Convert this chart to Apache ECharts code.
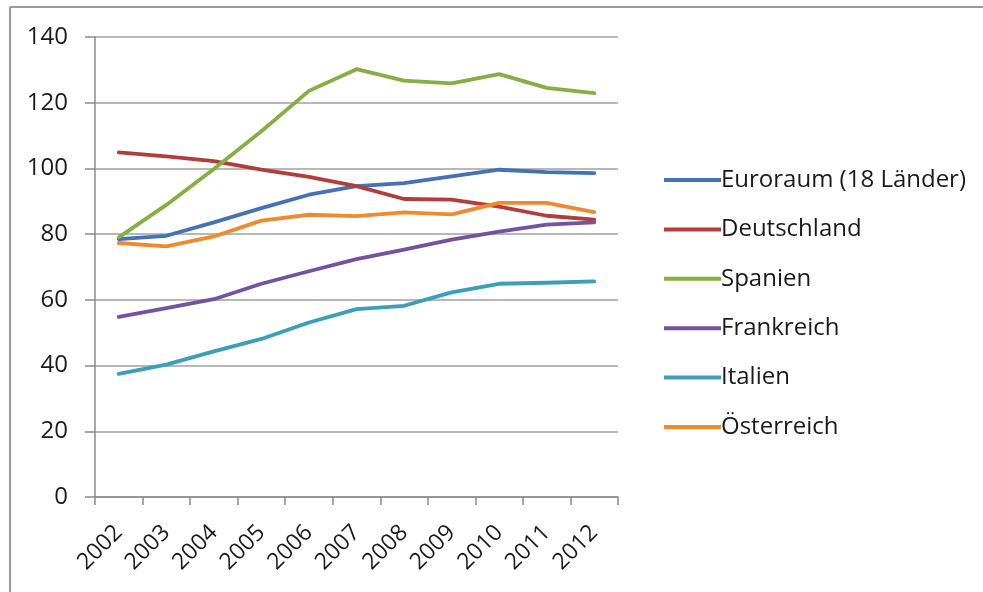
<!DOCTYPE html>
<html>
<head>
<meta charset="utf-8">
<script src="https://cdn.jsdelivr.net/npm/echarts@6/dist/echarts.min.js"></script>
<style>
  html, body { margin: 0; padding: 0; background: #ffffff; }
  #chart { width: 983px; height: 592px; }
</style>
</head>
<body>
<div id="chart"></div>
<script>
// Jahre (x-Achse)
const years = ['2002', '2003', '2004', '2005', '2006', '2007', '2008', '2009', '2010', '2011', '2012'];

// Werte je Land
const euroraum    = [78.5, 79.5, 83.6, 87.9, 92.0, 94.6, 95.5, 97.6, 99.6, 98.9, 98.6];
const deutschland = [104.9, 103.7, 102.2, 99.6, 97.4, 94.6, 90.7, 90.5, 88.4, 85.6, 84.4];
const spanien     = [79.0, 88.9, 99.8, 111.3, 123.6, 130.2, 126.7, 125.9, 128.7, 124.5, 122.9];
const frankreich  = [54.8, 57.5, 60.2, 64.9, 68.7, 72.4, 75.3, 78.3, 80.8, 82.9, 83.6];
const italien     = [37.5, 40.3, 44.3, 48.1, 53.1, 57.2, 58.2, 62.3, 64.9, 65.2, 65.6];
const oesterreich = [77.3, 76.3, 79.3, 84.1, 85.9, 85.5, 86.6, 86.0, 89.5, 89.5, 86.7];

const seriesNames = ['Euroraum (18 Länder)', 'Deutschland', 'Spanien', 'Frankreich', 'Italien', 'Österreich'];
const seriesData = [euroraum, deutschland, spanien, frankreich, italien, oesterreich];
const seriesColors = ['#4472b4', '#b03e3b', '#86ae45', '#7352a0', '#3b9fb8', '#f08a2e'];

// y-Achse
const yMin = 0, yMax = 140, yStep = 20;

const FONT = '"Open Sans", "Noto Sans", sans-serif';

const chart = echarts.init(document.getElementById('chart'), null, { renderer: 'canvas' });

chart.setOption({
  backgroundColor: '#ffffff',
  animation: false,
  textStyle: { fontFamily: FONT },
  grid: { left: 95, top: 37, right: 365, bottom: 95, containLabel: false },
  legend: {
    orient: 'vertical',
    left: 659,
    top: 163,
    itemWidth: 57,
    itemHeight: 4,
    itemGap: 25.4,
    icon: 'rect',
    data: seriesNames,
    textStyle: {
      fontFamily: FONT,
      fontSize: 24,
      color: '#1a1a1a',
      lineHeight: 24,
      padding: [0, 0, 0, -5]
    }
  },
  xAxis: {
    type: 'category',
    data: years,
    boundaryGap: true,
    axisLine: { lineStyle: { color: '#8c8c8c', width: 1.5 } },
    axisTick: { show: true, length: 8, interval: 0, lineStyle: { color: '#8c8c8c', width: 1.5 } },
    axisLabel: {
      interval: 0,
      rotate: 45,
      margin: 32,
      fontFamily: FONT,
      fontSize: 23,
      color: '#1a1a1a'
    },
    splitLine: { show: false }
  },
  yAxis: {
    type: 'value',
    min: yMin,
    max: yMax,
    interval: yStep,
    axisLine: { show: true, lineStyle: { color: '#8c8c8c', width: 1.5 } },
    axisTick: { show: true, length: 10, inside: false, lineStyle: { color: '#8c8c8c', width: 1.5 } },
    axisLabel: {
      margin: 27,
      fontFamily: FONT,
      fontSize: 24,
      color: '#1a1a1a'
    },
    splitLine: { show: true, lineStyle: { color: '#a0a0a0', width: 1.5 } }
  },
  series: seriesNames.map((name, i) => ({
    name: name,
    type: 'line',
    data: seriesData[i],
    symbol: 'none',
    smooth: false,
    color: seriesColors[i],
    lineStyle: { width: 3.8, color: seriesColors[i], cap: 'round', join: 'round' },
    emphasis: { disabled: true }
  })),
  graphic: [
    // Rahmen oben und links
    {
      type: 'line',
      shape: { x1: 10, y1: 7, x2: 983, y2: 7 },
      style: { stroke: '#9a9a9a', lineWidth: 2 },
      silent: true
    },
    {
      type: 'line',
      shape: { x1: 10, y1: 7, x2: 10, y2: 592 },
      style: { stroke: '#9a9a9a', lineWidth: 2 },
      silent: true
    }
  ]
});
</script>
</body>
</html>
